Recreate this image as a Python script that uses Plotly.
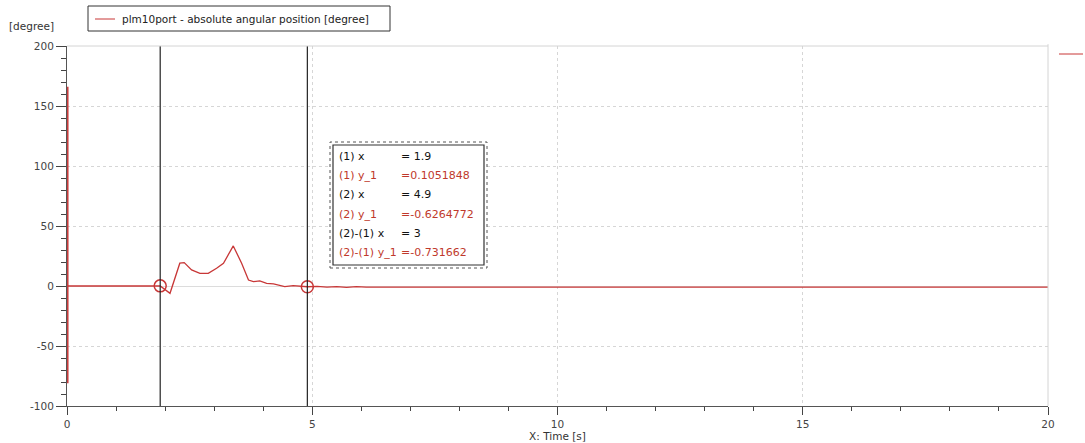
import plotly.graph_objects as go

# ---- data ----
time_s = [0, 1.8, 1.9, 2.1, 2.3, 2.39, 2.54, 2.71, 2.88, 3.05, 3.19, 3.39, 3.56, 3.70, 3.80,
          3.93, 4.07, 4.21, 4.34, 4.44, 4.61, 4.78, 4.9, 5.1, 5.3, 5.5, 5.7, 5.9, 6.1, 20]
angle_deg = [0, 0, 0.105, -6.1, 19, 19.5, 13.4, 10.6, 10.6, 14.8, 19, 33.4, 19, 5, 3.6,
             4.2, 2.2, 1.7, 0.8, -0.5, 0.3, -0.6, -0.63, -0.3, -1.0, -0.5, -1.1, -0.6, -0.9, -0.9]
cursor_x = [1.9, 4.9]
cursor_y = [0.1051848, -0.6264772]
x_ticks = [0, 5, 10, 15, 20]
x_ticktext = ["0", "5", "10", "15", "20"]
y_ticks = [-100, -50, 0, 50, 100, 150, 200]
y_ticktext = ["-100", "-50", "0", "50", "100", "150", "200"]
readout_labels = ["(1) x", "(1) y_1", "(2) x", "(2) y_1", "(2)-(1) x", "(2)-(1) y_1"]
readout_values = ["= 1.9", "=0.1051848", "= 4.9", "=-0.6264772", "= 3", "=-0.731662"]
readout_red = [False, True, False, True, False, True]
series_name = "plm10port - absolute angular position [degree]"

W, H = 1085, 443
L, R, T, B = 67, 1048, 46, 406   # plot area in pixels
LINE_RED = "#c83737"
FONT = "DejaVu Sans"


def px(x):
    return (x - L) / (R - L)


def py(y):
    return (B - y) / (B - T)


fig = go.Figure()
fig.add_trace(go.Scatter(x=time_s, y=angle_deg, mode="lines",
                         line=dict(color=LINE_RED, width=1.3),
                         name=series_name, showlegend=False))
fig.add_trace(go.Scatter(x=cursor_x, y=cursor_y, mode="markers",
                         marker=dict(symbol="circle-open", size=12, color=LINE_RED,
                                     line=dict(width=1.5, color=LINE_RED)),
                         showlegend=False, hoverinfo="skip"))

shapes = []
for cx in cursor_x:
    shapes.append(dict(type="line", xref="x", yref="paper", x0=cx, x1=cx, y0=0, y1=1,
                       line=dict(color="#222222", width=1.2), layer="above"))
shapes.append(dict(type="line", xref="paper", yref="paper", x0=0, x1=1, y0=1, y1=1,
                   line=dict(color="#d4d4d4", width=1)))
shapes.append(dict(type="line", xref="paper", yref="paper", x0=1, x1=1, y0=0, y1=1.005,
                   line=dict(color="#d4d4d4", width=1)))
shapes.append(dict(type="line", xref="paper", yref="y", x0=0.0008, x1=0.0008, y0=-81, y1=166,
                   line=dict(color=LINE_RED, width=1.5), layer="above"))
shapes.append(dict(type="line", xref="paper", yref="paper", x0=px(1059), x1=px(1083),
                   y0=py(54), y1=py(54), line=dict(color=LINE_RED, width=1)))
shapes.append(dict(type="rect", xref="paper", yref="paper", x0=px(88), x1=px(390),
                   y0=py(31), y1=py(6), line=dict(color="#333333", width=1), fillcolor="white"))
shapes.append(dict(type="line", xref="paper", yref="paper", x0=px(95), x1=px(115),
                   y0=py(19), y1=py(19), line=dict(color=LINE_RED, width=1)))
shapes.append(dict(type="rect", xref="paper", yref="paper", x0=px(330), x1=px(487),
                   y0=py(268), y1=py(142), line=dict(color="#555555", width=1, dash="dot"),
                   fillcolor="white", layer="above"))
shapes.append(dict(type="rect", xref="paper", yref="paper", x0=px(333), x1=px(484),
                   y0=py(265), y1=py(145), line=dict(color="#333333", width=1.2),
                   layer="above"))

annotations = []
annotations.append(dict(text=series_name, xref="paper", yref="paper", x=px(120), y=py(19),
                        xanchor="left", yanchor="middle", showarrow=False,
                        font=dict(family=FONT, size=10.5, color="#222222")))
annotations.append(dict(text="[degree]", xref="paper", yref="paper", x=px(7), y=py(26),
                        xanchor="left", yanchor="middle", showarrow=False,
                        font=dict(family=FONT, size=10.5, color="#333333")))
row_y0, row_dy = 156, 19.4
for i, (lab, val, red) in enumerate(zip(readout_labels, readout_values, readout_red)):
    col = "#c0392b" if red else "#111111"
    yy = row_y0 + i * row_dy
    annotations.append(dict(text=lab, xref="paper", yref="paper", x=px(337), y=py(yy),
                            xanchor="left", yanchor="middle", showarrow=False,
                            font=dict(family=FONT, size=11, color=col)))
    annotations.append(dict(text=val, xref="paper", yref="paper", x=px(399), y=py(yy),
                            xanchor="left", yanchor="middle", showarrow=False,
                            font=dict(family=FONT, size=11, color=col)))

fig.update_layout(
    width=W, height=H,
    margin=dict(l=L, r=W - R, t=T, b=H - B, pad=0, autoexpand=False),
    paper_bgcolor="white", plot_bgcolor="white",
    font=dict(family=FONT, size=10.5, color="#444444"),
    showlegend=False,
    shapes=shapes, annotations=annotations,
    xaxis=dict(range=[0, 20], tickvals=x_ticks, ticktext=x_ticktext, automargin=False,
               showgrid=True, gridcolor="#d6d6d6", layer="below traces",
               griddash="dot", gridwidth=1, zeroline=False, showline=True,
               linecolor="#555555", linewidth=1, ticks="outside", ticklen=8,
               tickcolor="#444444",
               minor=dict(dtick=1, ticks="outside", ticklen=4, tickcolor="#444444",
                          showgrid=False),
               title=dict(text="X: Time [s]", standoff=2,
                          font=dict(family=FONT, size=10.5, color="#333333"))),
    yaxis=dict(range=[-100, 200], tickvals=y_ticks, ticktext=y_ticktext, automargin=False,
               showgrid=True, gridcolor="#d6d6d6", layer="below traces",
               griddash="dot", gridwidth=1, zeroline=True, zerolinecolor="#dcdcdc",
               zerolinewidth=1, showline=True, linecolor="#555555", linewidth=1,
               ticks="outside", ticklen=10, tickcolor="#444444",
               minor=dict(dtick=10, ticks="outside", ticklen=5, tickcolor="#444444",
                          showgrid=False)),
)

fig.write_html("out.html", config={"displayModeBar": False},
               post_script="document.body.style.margin='0px';"
                           "document.body.style.overflow='hidden';")
